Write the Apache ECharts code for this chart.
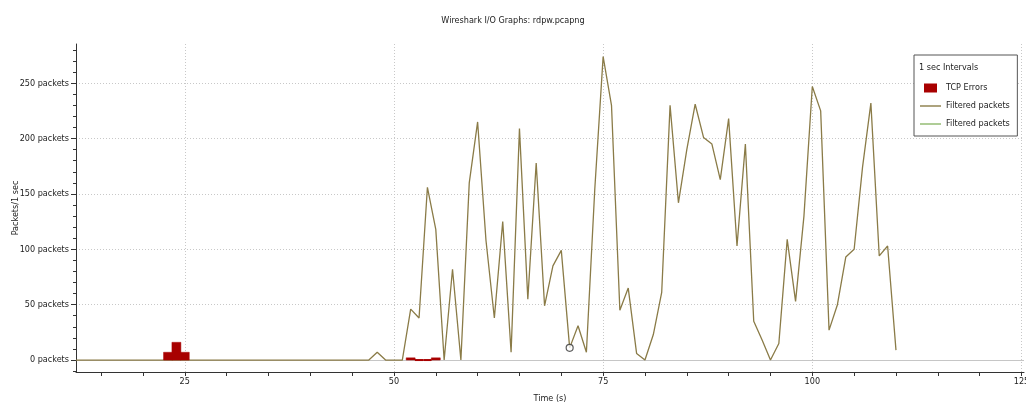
<!DOCTYPE html>
<html>
<head>
<meta charset="utf-8">
<script src="https://cdn.jsdelivr.net/npm/echarts@6/dist/echarts.min.js"></script>
<style>
  html, body { margin: 0; padding: 0; background: #fff; }
  #chart { width: 1026px; height: 408px; }
</style>
</head>
<body>
<div id="chart"></div>
<script>
// ---- data ----
const titleText = 'Wireshark I/O Graphs: rdpw.pcapng';
const xStart = 12;            // time (s) of first value in "filtered"
const filtered = [            // packets per 1 s, t = 12 .. 110
  0,0,0,0,0,0,0,0,0,0,
  0,0,0,0,0,0,0,0,0,0,
  0,0,0,0,0,0,0,0,0,0,
  0,0,0,0,0,
  0,7,0,0,0,
  46,38,156,118,0,82,0,160,215,108,
  38,125,7,209,55,178,49,85,99,11,
  31,7,154,274,230,45,65,6,0,23,
  61,230,142,190,231,201,195,163,218,103,
  195,35,18,0,15,109,53,130,247,225,
  27,50,93,100,174,232,94,103,9
];
const errTimes  = [23, 24, 25, 52, 53, 54, 55];
const errValues = [7, 16, 7, 2, 0, 0, 2];
const markTime = 71;
const xTicks  = [15,20,25,30,35,40,45,50,55,60,65,70,75,80,85,90,95,100,105,110,115,120,125];
const xLabels = [25, 50, 75, 100, 125];
const yMajor  = [0, 50, 100, 150, 200, 250];
const yMinor  = [-10,10,20,30,40,60,70,80,90,110,120,130,140,160,170,180,190,210,220,230,240,260,270,280];

const FONT = "'DejaVu Sans Condensed', 'Liberation Sans Narrow', 'Liberation Sans', sans-serif";
const X_MIN = 12, X_MAX = 125.3, Y_MIN = -10.8, Y_MAX = 285.4;
const RED = '#a80000';
const LEGEND_LEFT = 914;

const lineData = filtered.map((v, i) => [xStart + i, v]);
const errData = errTimes.map((t, i) => [t, errValues[i]]);
const markData = [[markTime, filtered[markTime - xStart]]];

const gridLines = []
  .concat(xLabels.map(v => ({ xAxis: v })))
  .concat(yMajor.filter(v => v !== 0).map(v => ({ yAxis: v })))
  .concat([{ yAxis: 0, lineStyle: { type: 'solid', color: '#c6c6c6', width: 1 } }]);

const lineIcon = 'path://M0,0h21v1.4h-21z';

const chart = echarts.init(document.getElementById('chart'), null, { renderer: 'canvas' });
chart.setOption({
  animation: false,
  backgroundColor: '#fff',
  textStyle: { fontFamily: FONT },
  title: {
    text: titleText,
    left: 'center',
    top: 11,
    textStyle: { fontFamily: FONT, fontSize: 9, fontWeight: 'normal', color: '#222' }
  },
  grid: { left: 76, right: 2, top: 44, bottom: 36, containLabel: false, outerBoundsMode: 'none' },
  legend: {
    data: [
      { name: 'TCP Errors', icon: 'path://M0,0h13v9h-13z' },
      { name: 'Filtered packets', icon: lineIcon },
      { name: 'Filtered packets ', icon: lineIcon }
    ],
    orient: 'vertical',
    left: LEGEND_LEFT,
    top: 55,
    padding: [27, 5, 6, 6],
    itemWidth: 21,
    itemHeight: 9,
    itemGap: 6,
    backgroundColor: '#fff',
    borderColor: '#555',
    borderWidth: 1,
    selectedMode: false,
    textStyle: { fontFamily: FONT, fontSize: 9, color: '#222', lineHeight: 12 }
  },
  graphic: [{
    type: 'text',
    left: LEGEND_LEFT + 5,
    top: 63,
    z: 100,
    style: { text: '1 sec Intervals', font: "9px " + FONT, fill: '#222' }
  }],
  xAxis: {
    type: 'value',
    min: X_MIN,
    max: X_MAX,
    name: 'Time (s)',
    nameLocation: 'middle',
    nameGap: 22,
    nameMoveOverlap: false,
    nameTextStyle: { fontFamily: FONT, fontSize: 9, color: '#222' },
    axisLine: { onZero: false, lineStyle: { color: '#333', width: 1 } },
    axisTick: { customValues: xTicks, length: 4, lineStyle: { color: '#333' } },
    axisLabel: { customValues: xLabels, margin: 5, fontFamily: FONT, fontSize: 9, color: '#222' },
    splitLine: { show: false }
  },
  yAxis: [{
    type: 'value',
    min: Y_MIN,
    max: Y_MAX,
    name: 'Packets/1 sec',
    nameLocation: 'middle',
    nameGap: 56,
    nameRotate: 90,
    nameMoveOverlap: false,
    nameTextStyle: { fontFamily: FONT, fontSize: 9, color: '#222' },
    axisLine: { show: true, lineStyle: { color: '#333', width: 1 } },
    axisTick: { show: true, customValues: yMajor, length: 5, lineStyle: { color: '#333' } },
    axisLabel: { customValues: yMajor, margin: 7, fontFamily: FONT, fontSize: 9, color: '#222',
                 formatter: v => v + ' packets' },
    splitLine: { show: false }
  }, {
    type: 'value',
    min: Y_MIN,
    max: Y_MAX,
    position: 'left',
    axisLine: { show: false },
    axisTick: { show: true, customValues: yMinor, length: 3, lineStyle: { color: '#333' } },
    axisLabel: { show: false },
    splitLine: { show: false }
  }],
  series: [{
    name: 'grid',
    type: 'line',
    data: [],
    z: 0,
    silent: true,
    markLine: {
      silent: true,
      z: 0,
      symbol: ['none', 'none'],
      label: { show: false },
      animation: false,
      lineStyle: { type: [1, 2], color: '#c8c8c8', width: 1 },
      data: gridLines
    }
  }, {
    name: 'Filtered packets ',
    type: 'line',
    data: [],
    symbol: 'none',
    color: '#8db86b',
    lineStyle: { color: '#8db86b', width: 1.3 }
  }, {
    name: 'Filtered packets',
    type: 'line',
    data: lineData,
    symbol: 'none',
    z: 3,
    color: '#8a7b47',
    lineStyle: { color: '#8a7b47', width: 1.3 }
  }, {
    name: 'marker',
    type: 'scatter',
    data: markData,
    symbol: 'circle',
    symbolSize: 7,
    z: 5,
    itemStyle: { color: '#fff', borderColor: '#333', borderWidth: 1.2 }
  }, {
    name: 'TCP Errors',
    type: 'custom',
    data: errData,
    z: 6,
    clip: true,
    color: RED,
    itemStyle: { color: RED },
    encode: { x: 0, y: 1 },
    renderItem: function (params, api) {
      const t = api.value(0), v = api.value(1);
      const top = api.coord([t, v]);
      const base = api.coord([t, 0]);
      const w = api.size([1, 0])[0];
      if (v === 0) {
        return { type: 'line', shape: { x1: base[0] - w / 2, y1: base[1], x2: base[0] + w / 2, y2: base[1] },
                 style: { stroke: RED, lineWidth: 2 } };
      }
      return { type: 'rect', shape: { x: top[0] - w / 2 - 0.3, y: top[1], width: w + 0.6, height: base[1] - top[1] },
               style: { fill: RED, stroke: RED, lineWidth: 0.5 } };
    }
  }]
});
</script>
</body>
</html>
